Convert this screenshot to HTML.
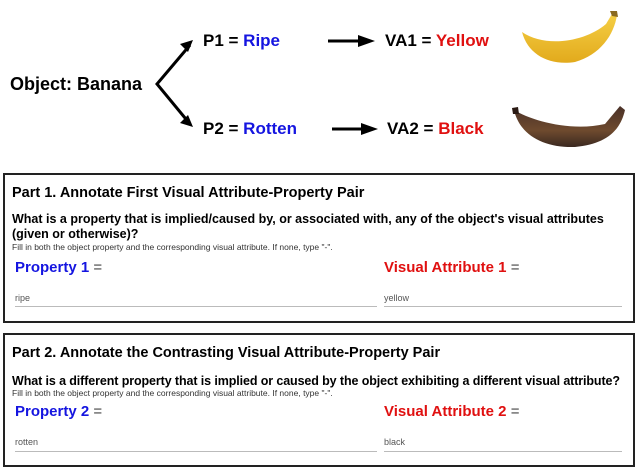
<!DOCTYPE html>
<html><head><meta charset="utf-8"><style>
html,body{margin:0;padding:0;background:#fff;width:638px;height:475px;overflow:hidden}
text{font-family:"Liberation Sans",Arial,sans-serif}
</style></head><body>
<svg width="638" height="475" viewBox="0 0 638 475" xmlns="http://www.w3.org/2000/svg">
<defs>
<linearGradient id="yb" x1="0" y1="0" x2="0" y2="1"><stop offset="0" stop-color="#f5cf45"/><stop offset="1" stop-color="#e2aa1c"/></linearGradient>
<linearGradient id="bb" x1="0" y1="0" x2="0" y2="1"><stop offset="0" stop-color="#4a3128"/><stop offset="0.6" stop-color="#6e4a2e"/><stop offset="1" stop-color="#3a2820"/></linearGradient>
</defs>
<text x="10" y="90" font-size="18" font-weight="bold">Object: Banana</text>
<polyline points="190,45 157,84 190,124" fill="none" stroke="#000" stroke-width="3"/>
<path d="M193,40 L180,44 L188,52 z" fill="#000"/>
<path d="M193,127 L180,123 L188,115 z" fill="#000"/>
<text x="203" y="46" font-size="17" font-weight="bold">P1 = <tspan fill="#1515e0">Ripe</tspan></text>
<text x="203" y="134" font-size="17" font-weight="bold">P2 = <tspan fill="#1515e0">Rotten</tspan></text>
<line x1="328" y1="41" x2="362" y2="41" stroke="#000" stroke-width="3"/>
<path d="M375,41 L358,35 L358,47 z" fill="#000"/>
<line x1="332" y1="129" x2="365" y2="129" stroke="#000" stroke-width="3"/>
<path d="M378,129 L361,123 L361,135 z" fill="#000"/>
<text x="385" y="46" font-size="17" font-weight="bold">VA1 = <tspan fill="#e01010">Yellow</tspan></text>
<text x="387" y="134" font-size="17" font-weight="bold">VA2 = <tspan fill="#e01010">Black</tspan></text>
<path d="M522,32 C545,48 585,42 606,24 L612,14 L617,15 C614,35 600,55 575,62 C550,66 528,55 522,32 z" fill="url(#yb)"/>
<path d="M610,11 L617,11 L618,17 L612,16 z" fill="#8a6a20"/>
<path d="M514,110 C530,120 570,132 605,124 L620,106 L625,110 C620,132 605,144 575,147 C545,148 520,136 514,110 z" fill="url(#bb)"/>
<path d="M512,108 L518,107 L519,114 L513,114 z" fill="#2a1a14"/>
<rect x="4" y="174" width="630" height="148" fill="none" stroke="#222" stroke-width="2"/>
<text x="12" y="197" font-size="14.5" font-weight="bold">Part 1. Annotate First Visual Attribute-Property Pair</text>
<text x="12" y="223" font-size="12.5" font-weight="bold">What is a property that is implied/caused by, or associated with, any of the object's visual attributes</text>
<text x="12" y="238" font-size="12.5" font-weight="bold">(given or otherwise)?</text>
<text x="12" y="250" font-size="8.5" fill="#333">Fill in both the object property and the corresponding visual attribute. If none, type "-".</text>
<text x="15" y="272" font-size="15" font-weight="bold" fill="#1515e0">Property 1 <tspan fill="#444" font-weight="normal">=</tspan></text>
<text x="384" y="272" font-size="15" font-weight="bold" fill="#e01010">Visual Attribute 1 <tspan fill="#444" font-weight="normal">=</tspan></text>
<text x="15" y="301" font-size="9" fill="#555">ripe</text>
<text x="384" y="301" font-size="9" fill="#555">yellow</text>
<line x1="15" y1="306.5" x2="377" y2="306.5" stroke="#bbb" stroke-width="1"/>
<line x1="384" y1="306.5" x2="622" y2="306.5" stroke="#bbb" stroke-width="1"/>
<rect x="4" y="334" width="630" height="132" fill="none" stroke="#222" stroke-width="2"/>
<text x="12" y="357" font-size="14.5" font-weight="bold">Part 2. Annotate the Contrasting Visual Attribute-Property Pair</text>
<text x="12" y="385" font-size="12.5" font-weight="bold" textLength="608">What is a different property that is implied or caused by the object exhibiting a different visual attribute?</text>
<text x="12" y="396" font-size="8.5" fill="#333">Fill in both the object property and the corresponding visual attribute. If none, type "-".</text>
<text x="15" y="416" font-size="15" font-weight="bold" fill="#1515e0">Property 2 <tspan fill="#444" font-weight="normal">=</tspan></text>
<text x="384" y="416" font-size="15" font-weight="bold" fill="#e01010">Visual Attribute 2 <tspan fill="#444" font-weight="normal">=</tspan></text>
<text x="15" y="445" font-size="9" fill="#555">rotten</text>
<text x="384" y="445" font-size="9" fill="#555">black</text>
<line x1="15" y1="451.5" x2="377" y2="451.5" stroke="#bbb" stroke-width="1"/>
<line x1="384" y1="451.5" x2="622" y2="451.5" stroke="#bbb" stroke-width="1"/>
</svg>
</body></html>
